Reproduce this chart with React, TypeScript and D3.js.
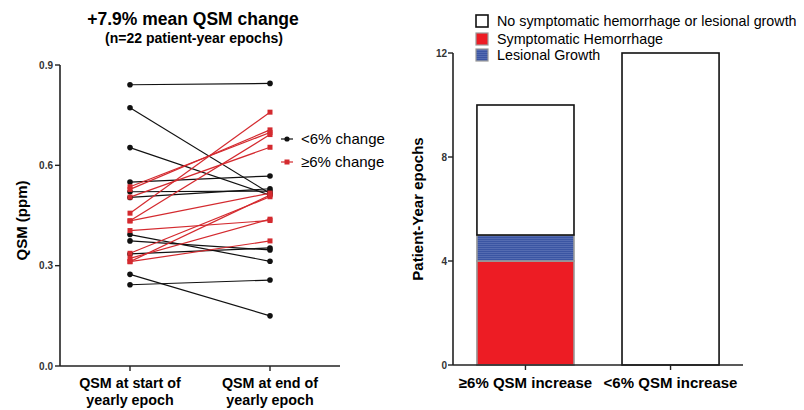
import React from 'react';
import * as d3 from 'd3';

// left panel: paired QSM values (ppm), start -> end of yearly epoch
const lowStart = [0.841, 0.772, 0.653, 0.55, 0.521, 0.504, 0.393, 0.374, 0.335, 0.274, 0.243];
const lowEnd = [0.845, 0.516, 0.511, 0.568, 0.523, 0.53, 0.313, 0.347, 0.353, 0.15, 0.257];
const highStart = [0.536, 0.528, 0.505, 0.457, 0.434, 0.434, 0.405, 0.337, 0.322, 0.312, 0.312];
const highEnd = [0.698, 0.706, 0.654, 0.759, 0.692, 0.517, 0.435, 0.506, 0.439, 0.374, 0.511];
const epochLabels = [
  ['QSM at start of', 'yearly epoch'],
  ['QSM at end of', 'yearly epoch'],
];
const qsmTicks = [0, 0.3, 0.6, 0.9];

// right panel: stacked patient-year epochs
const barCategories = ['≥6% QSM increase', '<6% QSM increase'];
const hemorrhage = [4, 0];
const growth = [1, 0];
const noEvent = [5, 12];
const countTicks = [0, 4, 8, 12];

const FONT = '"Liberation Sans", Arial, Helvetica, sans-serif';

export default function App() {
  // ---- left scales
  let y1 = d3.scaleLinear().domain([0, 0.9]).range([366, 65]);
  let x1 = d3.scalePoint().domain(['start', 'end']).range([130, 270]);

  let pairs = [
    ...lowStart.map((s, i) => ({ s, e: lowEnd[i], hi: false })),
    ...highStart.map((s, i) => ({ s, e: highEnd[i], hi: true })),
  ];

  // ---- right scales
  let y2 = d3.scaleLinear().domain([0, 12]).range([365, 53]);
  let x2 = d3.scaleBand().domain(barCategories).range([453, 743]).paddingInner(0.331).paddingOuter(0.165);

  let table = barCategories.map((c, i) => ({ cat: c, hem: hemorrhage[i], grow: growth[i], none: noEvent[i] }));
  let stack = d3.stack().keys(['hem', 'grow', 'none'])(table as any);
  let fills: any = { hem: '#ed1c24', grow: 'url(#hatch)', none: '#ffffff' };
  let strokes: any = { hem: '#999999', grow: '#999999', none: '#111111' };

  const sq = 5;

  return (
    <svg width={804} height={410} style={{ position: 'absolute', left: 0, top: 0, background: '#fff' }} fontFamily={FONT}>
      <defs>
        <pattern id="hatch" width={4} height={2} patternUnits="userSpaceOnUse">
          <rect width={4} height={2} fill="#3b55a3" />
          <rect width={4} height={0.8} fill="#5a70b5" />
        </pattern>
      </defs>

      {/* ---------- LEFT PANEL ---------- */}
      <text x={193} y={25} textAnchor="middle" fontSize={17.5} fontWeight="bold">+7.9% mean QSM change</text>
      <text x={194} y={43} textAnchor="middle" fontSize={14} fontWeight="bold">(n=22 patient-year epochs)</text>

      <text transform={`translate(27,${y1(0.45) + 5}) rotate(-90)`} textAnchor="middle" fontSize={15} fontWeight="bold">QSM (ppm)</text>

      <line x1={60} x2={60} y1={y1(0.9)} y2={y1(0)} stroke="#222" strokeWidth={1.6} />
      <line x1={60} x2={340} y1={y1(0)} y2={y1(0)} stroke="#222" strokeWidth={1.6} />
      {qsmTicks.map(t => (
        <g key={t}>
          <line x1={55} x2={60} y1={y1(t)} y2={y1(t)} stroke="#222" strokeWidth={1.4} />
          <text x={53} y={y1(t) + 3.5} textAnchor="end" fontSize={10} fontWeight="bold" fill="#333">{t.toFixed(1)}</text>
        </g>
      ))}
      {['start', 'end'].map((k, i) => (
        <g key={k}>
          <line x1={x1(k)} x2={x1(k)} y1={366} y2={371} stroke="#222" strokeWidth={1.4} />
          {epochLabels[i].map((l, j) => (
            <text key={j} x={x1(k)} y={388 + j * 17} textAnchor="middle" fontSize={14.3} fontWeight="bold">{l}</text>
          ))}
        </g>
      ))}

      {pairs.map((p, i) => (
        <line key={'l' + i} x1={x1('start')} x2={x1('end')} y1={y1(p.s)} y2={y1(p.e)}
          stroke={p.hi ? '#d42a2f' : '#111'} strokeWidth={1.2} />
      ))}
      {pairs.map((p, i) => (
        <g key={'m' + i}>
          {p.hi ? (
            <>
              <rect x={x1('start')! - sq / 2} y={y1(p.s) - sq / 2} width={sq} height={sq} fill="#d42a2f" />
              <rect x={x1('end')! - sq / 2} y={y1(p.e) - sq / 2} width={sq} height={sq} fill="#d42a2f" />
            </>
          ) : (
            <>
              <circle cx={x1('start')} cy={y1(p.s)} r={2.8} fill="#111" />
              <circle cx={x1('end')} cy={y1(p.e)} r={2.8} fill="#111" />
            </>
          )}
        </g>
      ))}

      {/* left legend */}
      <line x1={281} x2={293} y1={139} y2={139} stroke="#111" strokeWidth={1.2} />
      <circle cx={287} cy={139} r={2.6} fill="#111" />
      <text x={301} y={144} fontSize={15}>&lt;6% change</text>
      <line x1={281} x2={293} y1={162} y2={162} stroke="#d42a2f" strokeWidth={1.2} />
      <rect x={287 - sq / 2} y={162 - sq / 2} width={sq} height={sq} fill="#d42a2f" />
      <text x={301} y={167} fontSize={15}>≥6% change</text>

      {/* ---------- RIGHT PANEL ---------- */}
      <text transform={`translate(423,${y2(6)}) rotate(-90)`} textAnchor="middle" fontSize={15} fontWeight="bold">Patient-Year epochs</text>

      {stack.map(layer => layer.map((d: any, i) => {
        if (d[1] - d[0] <= 0) return null;
        return (
          <rect key={layer.key + i} x={x2(barCategories[i])} width={x2.bandwidth()}
            y={y2(d[1])} height={y2(d[0]) - y2(d[1])}
            fill={fills[layer.key]} stroke={strokes[layer.key]} strokeWidth={1.6} />
        );
      }))}

      <line x1={453} x2={453} y1={y2(12)} y2={y2(0)} stroke="#222" strokeWidth={1.6} />
      <line x1={453} x2={743} y1={y2(0)} y2={y2(0)} stroke="#222" strokeWidth={1.6} />
      {countTicks.map(t => (
        <g key={t}>
          <line x1={448} x2={453} y1={y2(t)} y2={y2(t)} stroke="#222" strokeWidth={1.4} />
          <text x={447} y={y2(t) + 3.5} textAnchor="end" fontSize={10} fontWeight="bold" fill="#333">{t}</text>
        </g>
      ))}
      {barCategories.map(c => (
        <g key={c}>
          <line x1={x2(c)! + x2.bandwidth() / 2} x2={x2(c)! + x2.bandwidth() / 2} y1={365} y2={370} stroke="#222" strokeWidth={1.4} />
          <text x={x2(c)! + x2.bandwidth() / 2} y={388} textAnchor="middle" fontSize={15} fontWeight="bold">{c}</text>
        </g>
      ))}

      {/* right legend */}
      <rect x={476} y={15} width={12} height={12} fill="#fff" stroke="#111" strokeWidth={1.6} />
      <text x={497} y={26} fontSize={14.3}>No symptomatic hemorrhage or lesional growth</text>
      <rect x={476} y={33} width={12} height={12} fill="#ed1c24" stroke="#999" strokeWidth={1.2} />
      <text x={497} y={44} fontSize={14.3}>Symptomatic Hemorrhage</text>
      <rect x={476} y={49} width={12} height={12} fill="url(#hatch)" stroke="#999" strokeWidth={1.2} />
      <text x={497} y={60} fontSize={14.3}>Lesional Growth</text>
    </svg>
  );
}
